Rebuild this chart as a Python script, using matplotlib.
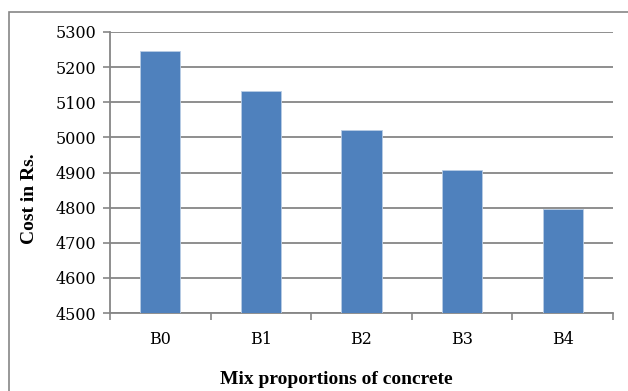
import numpy as np
import matplotlib.pyplot as plt
from matplotlib.patches import Rectangle

# Data
mixes = ['B0', 'B1', 'B2', 'B3', 'B4']
cost = [5246, 5133, 5021, 4908, 4796]
y_ticks = [4500, 4600, 4700, 4800, 4900, 5000, 5100, 5200, 5300]

plt.rcParams['font.family'] = ['DejaVu Serif']

fig = plt.figure(figsize=(6.28, 3.91), dpi=100)
ax = fig.add_axes([110/628, 1 - 313/391, 503/628, 281/391])

# outer chart border
fig.patches.append(Rectangle((9/628, -0.1), 1.2, 1 - 12/391 + 0.1,
                             transform=fig.transFigure, fill=False,
                             edgecolor='#868686', linewidth=1.2))

x = np.arange(len(mixes))
ax.bar(x, cost, width=0.4, color='#4F81BD', edgecolor='#B9CDE5',
       linewidth=0.6, zorder=3)

ax.set_ylim(4500, 5300)
ax.set_xlim(-0.5, len(mixes) - 0.5)
ax.set_yticks(y_ticks)
ax.set_xticks(x)
ax.set_xticklabels(mixes)
ax.set_xticks(np.arange(-0.5, len(mixes), 1), minor=True)

ax.grid(axis='y', color='#868686', linewidth=1.3, zorder=0)
for s in ['top', 'right']:
    ax.spines[s].set_visible(False)
for s in ['left', 'bottom']:
    ax.spines[s].set_color('#868686')
    ax.spines[s].set_linewidth(1.3)

ax.tick_params(axis='y', labelsize=11.5, color='#868686', length=5,
               width=1.2, pad=5)
ax.tick_params(axis='x', which='major', labelsize=11.5, length=0, pad=13)
ax.tick_params(axis='x', which='minor', color='#868686', length=5, width=1.2)

lab_font = dict(family='Liberation Serif', fontsize=14, fontweight='bold')
xl = ax.set_xlabel('Mix proportions of concrete', **lab_font)
xl.set_va('center')
ax.xaxis.set_label_coords(0.449, -0.235)
yl = ax.set_ylabel('Cost in Rs.', **lab_font)
yl.set_va('center')
yl.set_ha('center')
ax.yaxis.set_label_coords(-0.161, 0.406)

fig.savefig('out.png', dpi=100)
